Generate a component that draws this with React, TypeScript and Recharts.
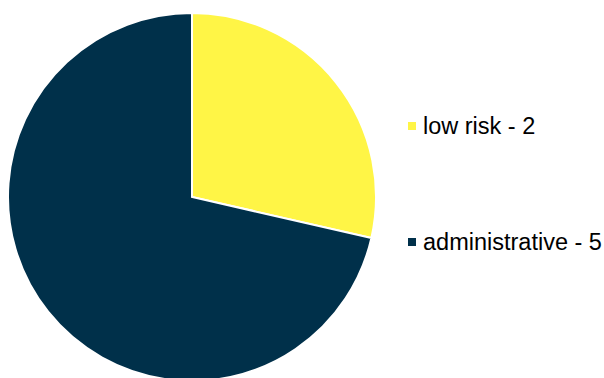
import React from 'react';
import { PieChart, Pie, Cell, Legend } from 'recharts';

const categories = ['low risk', 'administrative'];
const values = [2, 5];
const colors = ['#FFF546', '#00304A'];

const data = categories.map((name, i) => ({ name, value: values[i] }));

const renderLegend = () => (
  <div style={{ fontFamily: 'Liberation Sans, Arial, sans-serif', fontSize: 23.5, color: '#000' }}>
    {data.map((d, i) => (
      <div key={d.name} style={{ display: 'flex', alignItems: 'center', height: 30, marginBottom: i === 0 ? 86 : 0 }}>
        <span style={{ display: 'inline-block', width: 8, height: 8, background: colors[i], marginRight: 7 }} />
        <span>{`${d.name} - ${d.value}`}</span>
      </div>
    ))}
  </div>
);

export default function App() {
  return (
    <div style={{ position: 'absolute', left: 0, top: 0 }}>
      <PieChart width={604} height={378} margin={{ top: 0, right: 0, bottom: 0, left: 0 }}>
        <Pie
          data={data}
          dataKey="value"
          nameKey="name"
          cx={192}
          cy={197}
          outerRadius={184}
          startAngle={90}
          endAngle={-270}
          stroke="#ffffff"
          strokeWidth={2}
          isAnimationActive={false}
        >
          {data.map((d, i) => (
            <Cell key={d.name} fill={colors[i]} />
          ))}
        </Pie>
        <Legend
          content={renderLegend}
          wrapperStyle={{ position: 'absolute', left: 408, top: 111, width: 196 }}
        />
      </PieChart>
    </div>
  );
}
